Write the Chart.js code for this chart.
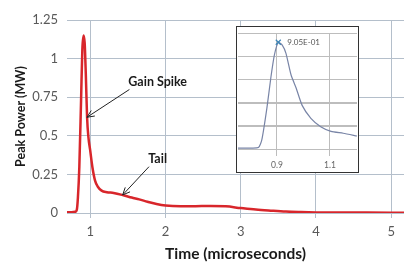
<!DOCTYPE html>
<html lang="en">
<head>
  <meta charset="UTF-8">
  <title>Gain Spike Pulse</title>
  <style>
    html, body {
      margin: 0;
      padding: 0;
      background: #fff;
    }
    #wrap {
      position: relative;
      width: 412px;
      height: 264px;
    }
    #inset {
      position: absolute;
      left: 236px;
      top: 26px;
      width: 121px;
      height: 145px;
      border: 1px solid #333;
      background: #fff;
    }
  </style>
</head>
<body>
  <div id="wrap">
    <canvas id="mainChart" width="412" height="264"></canvas>
    <div id="inset"><canvas id="insetChart" width="121" height="145"></canvas></div>
  </div>

  <script src="https://cdn.jsdelivr.net/npm/chart.js/dist/chart.umd.min.js"></script>
  <script>
    // main pulse, time in microseconds vs peak power in MW
    const timeUs = [0.69, 0.75, 0.80, 0.82, 0.835, 0.854, 0.877, 0.894, 0.91, 0.925, 0.94, 0.957,
      0.975, 0.997, 1.03, 1.063, 1.10, 1.15, 1.22, 1.31, 1.44, 1.55, 1.65, 1.76, 1.88, 2.00,
      2.20, 2.40, 2.60, 2.80, 3.00, 3.20, 3.40, 3.60, 3.80, 4.00, 4.50, 5.00, 5.17];
    const peakMW = [0.005, 0.005, 0.008, 0.02, 0.10, 0.30, 0.73, 1.06, 1.15, 1.10, 0.90, 0.62,
      0.49, 0.41, 0.29, 0.21, 0.17, 0.145, 0.135, 0.13, 0.115, 0.10, 0.088, 0.073, 0.058, 0.048,
      0.043, 0.044, 0.046, 0.043, 0.032, 0.022, 0.015, 0.009, 0.006, 0.004, 0.003, 0.002, 0.002];
    const xTicks = [1, 2, 3, 4, 5];
    const yTicks = [0, 0.25, 0.5, 0.75, 1, 1.25];

    // zoomed inset around the spike
    const insetTime = [0.753, 0.79, 0.83, 0.843, 0.862, 0.877, 0.89, 0.905, 0.92, 0.934, 0.953,
      0.972, 0.995, 1.028, 1.065, 1.104, 1.15, 1.202];
    const insetPower = [0.01, 0.01, 0.015, 0.10, 0.44, 0.77, 1.01, 1.15, 1.12, 1.03, 0.80,
      0.66, 0.47, 0.33, 0.24, 0.19, 0.17, 0.14];
    const insetXTicks = [0.9, 1.1];
    const insetPeakLabel = '9.05E-01';

    const FONT = 'Lato, "Open Sans", sans-serif';
    const gridColor = '#b4bfcb';
    const insetGrid = '#bdbdbd';

    // callouts in data coordinates
    const callouts = [
      { text: 'Gain Spike', tx: 1.505, ty: 0.85, from: [1.52, 0.80], to: [0.955, 0.62] },
      { text: 'Tail', tx: 1.77, ty: 0.35, from: [1.78, 0.30], to: [1.43, 0.117] }
    ];

    function arrow(ctx, x1, y1, x2, y2) {
      const a = Math.atan2(y2 - y1, x2 - x1);
      const len = 8, spread = 0.42;
      ctx.beginPath();
      ctx.moveTo(x1, y1);
      ctx.lineTo(x2, y2);
      ctx.moveTo(x2 - len * Math.cos(a - spread), y2 - len * Math.sin(a - spread));
      ctx.lineTo(x2, y2);
      ctx.lineTo(x2 - len * Math.cos(a + spread), y2 - len * Math.sin(a + spread));
      ctx.stroke();
    }

    const calloutPlugin = {
      id: 'callouts',
      afterDatasetsDraw(chart) {
        const { ctx, scales: { x, y } } = chart;
        ctx.save();
        ctx.strokeStyle = '#222';
        ctx.lineWidth = 1;
        ctx.fillStyle = '#1a1a1a';
        ctx.font = 'bold 12.5px ' + FONT;
        ctx.textBaseline = 'middle';
        callouts.forEach(c => {
          ctx.fillText(c.text, x.getPixelForValue(c.tx), y.getPixelForValue(c.ty));
          arrow(ctx, x.getPixelForValue(c.from[0]), y.getPixelForValue(c.from[1]),
            x.getPixelForValue(c.to[0]), y.getPixelForValue(c.to[1]));
        });
        ctx.restore();
      }
    };

    new Chart(document.getElementById('mainChart').getContext('2d'), {
      type: 'line',
      data: {
        datasets: [{
          data: timeUs.map((t, i) => ({ x: t, y: peakMW[i] })),
          borderColor: '#d8262b',
          borderWidth: 2.5,
          pointRadius: 0,
          cubicInterpolationMode: 'monotone',
          fill: false
        }]
      },
      options: {
        responsive: false,
        animation: false,
        devicePixelRatio: 1,
        layout: { padding: { top: 20, right: 8, left: 0, bottom: 0 } },
        plugins: { legend: { display: false }, tooltip: { enabled: false } },
        scales: {
          x: {
            type: 'linear',
            min: 0.69,
            max: 5.17,
            afterBuildTicks: s => { s.ticks = xTicks.map(v => ({ value: v })); },
            afterFit: s => { s.height = 51; },
            grid: { color: gridColor, tickLength: 5 },
            border: { display: false },
            ticks: { font: { family: FONT, size: 13 }, color: '#595959', padding: 6, maxRotation: 0, callback: v => String(v) },
            title: {
              display: true, text: 'Time (microseconds)', color: '#1a1a1a',
              font: { family: FONT, size: 15.5, weight: 'bold' }, padding: { top: 0, bottom: 1 }
            }
          },
          y: {
            min: 0,
            max: 1.25,
            afterBuildTicks: s => { s.ticks = yTicks.map(v => ({ value: v })); },
            afterFit: s => { s.width = 67; },
            grid: { color: gridColor, drawTicks: false },
            border: { display: false },
            ticks: { font: { family: FONT, size: 13 }, color: '#595959', padding: 9, callback: v => String(v) },
            title: {
              display: true, text: 'Peak Power (MW)', color: '#1a1a1a',
              font: { family: FONT, size: 12.5, weight: 'bold' }, padding: { top: 13, bottom: 0 }
            }
          }
        }
      },
      plugins: [calloutPlugin]
    });

    // inset: peak marker + label, and the horizontal grid re-stroked from the y scale
    const peakIdx = insetPower.indexOf(Math.max(...insetPower));
    const insetPlugin = {
      id: 'insetExtras',
      beforeDatasetsDraw(chart) {
        const { ctx, chartArea, scales: { y } } = chart;
        ctx.save();
        ctx.strokeStyle = insetGrid;
        ctx.lineWidth = 1;
        ctx.beginPath();
        y.ticks.forEach(t => {
          const py = Math.round(y.getPixelForValue(t.value)) + 0.5;
          ctx.moveTo(chartArea.left, py);
          ctx.lineTo(chartArea.right, py);
        });
        ctx.stroke();
        ctx.restore();
      },
      afterDatasetsDraw(chart) {
        const { ctx, scales: { x, y } } = chart;
        const px = x.getPixelForValue(insetTime[peakIdx]);
        const py = y.getPixelForValue(insetPower[peakIdx]);
        ctx.save();
        ctx.strokeStyle = '#3d86b8';
        ctx.lineWidth = 1.2;
        ctx.beginPath();
        ctx.moveTo(px - 2.5, py - 2.5); ctx.lineTo(px + 2.5, py + 2.5);
        ctx.moveTo(px + 2.5, py - 2.5); ctx.lineTo(px - 2.5, py + 2.5);
        ctx.stroke();
        ctx.fillStyle = '#555';
        ctx.font = '8px ' + FONT;
        ctx.textBaseline = 'middle';
        ctx.fillText(insetPeakLabel, px + 9, py);
        ctx.restore();
      }
    };

    new Chart(document.getElementById('insetChart').getContext('2d'), {
      type: 'line',
      data: {
        datasets: [{
          data: insetTime.map((t, i) => ({ x: t, y: insetPower[i] })),
          borderColor: '#7884a6',
          borderWidth: 1.2,
          pointRadius: 0,
          tension: 0.2,
          fill: false
        }]
      },
      options: {
        responsive: false,
        animation: false,
        devicePixelRatio: 1,
        layout: { padding: { top: 6, right: 1, left: 1, bottom: 0 } },
        plugins: { legend: { display: false }, tooltip: { enabled: false } },
        scales: {
          x: {
            type: 'linear',
            min: 0.753,
            max: 1.202,
            afterBuildTicks: s => { s.ticks = insetXTicks.map(v => ({ value: v })); },
            afterFit: s => { s.height = 23; },
            grid: { color: insetGrid, tickLength: 7 },
            border: { display: false },
            ticks: { font: { family: FONT, size: 8.5 }, color: '#666', padding: 4, maxRotation: 0, callback: v => String(v) }
          },
          y: {
            min: 0,
            max: 1.25,
            afterBuildTicks: s => { s.ticks = yTicks.map(v => ({ value: v })); },
            afterFit: s => { s.width = 0; },
            grid: { color: insetGrid, drawTicks: false },
            border: { display: false },
            ticks: { display: false }
          }
        }
      },
      plugins: [insetPlugin]
    });
  </script>
</body>
</html>
